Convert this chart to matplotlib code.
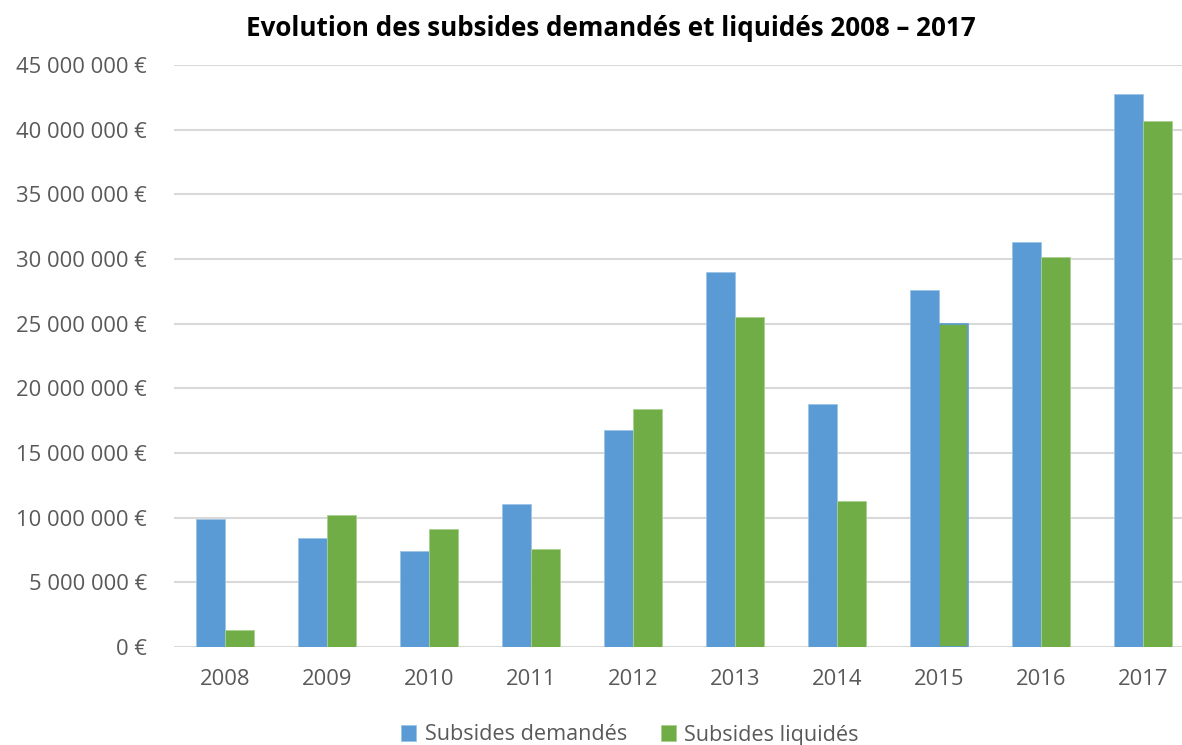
import matplotlib
matplotlib.use("Agg")
import matplotlib.pyplot as plt
import numpy as np

years = ["2008", "2009", "2010", "2011", "2012", "2013", "2014", "2015", "2016", "2017"]
demandes = [9.9e6, 8.46e6, 7.42e6, 11.09e6, 16.8e6, 29.0e6, 18.82e6, 27.62e6, 31.32e6, 42.72e6]
liquides = [1.31e6, 10.24e6, 9.10e6, 7.56e6, 18.43e6, 25.5e6, 11.27e6, 24.94e6, 30.14e6, 40.67e6]
yticks = np.arange(0, 45e6 + 1, 5e6)

BLUE = "#5b9bd5"
GREEN = "#70ad47"
GREY = "#595959"

plt.rcParams["font.family"] = ["Open Sans", "DejaVu Sans"]

fig = plt.figure(figsize=(11.82, 7.45), dpi=100)
ax = fig.add_axes([174 / 1182, 1 - 647 / 745, 1020 / 1182, 582 / 745])

x = np.arange(len(years))
w = 0.285
ax.bar(x - w / 2, demandes, w, color=BLUE, edgecolor="#9cc3e6", linewidth=0.6,
       label="Subsides demandés", zorder=3)
bars = ax.bar(x + w / 2, liquides, w, color=GREEN, edgecolor="#a9d08e", linewidth=0.6,
              label="Subsides liquidés", zorder=3)
# the 2015 paid bar carries a blue outline in the source sheet
bars[7].set_edgecolor(BLUE)
bars[7].set_linewidth(1.2)

def euro(v, _=None):
    if v == 0:
        return "0 €"
    return f"{int(v):,}".replace(",", " ") + " €"

ax.set_ylim(0, 45e6)
ax.set_xlim(-0.5, len(years) - 0.5)
ax.set_yticks(yticks)
ax.set_yticklabels([euro(v) for v in yticks])
ax.set_xticks(x)
ax.set_xticklabels(years)
ax.tick_params(axis="both", length=0, labelsize=15.8, colors=GREY)
ax.tick_params(axis="y", pad=19.5)
ax.tick_params(axis="x", pad=16)
ax.grid(True, axis="y", color="#d9d9d9", lw=1.5, zorder=0)
for s in ax.spines.values():
    s.set_visible(False)

fig.text(611 / 1182, 1 - 28 / 745, "Evolution des subsides demandés et liquidés 2008 – 2017",
         ha="center", va="center", fontsize=18.7, fontweight="bold", color="black")

leg = fig.legend(loc="center", bbox_to_anchor=(630 / 1182, 1 - 735 / 745), ncol=2,
                 frameon=False, fontsize=15.6, handlelength=0.7, handleheight=0.7,
                 handletextpad=0.4, columnspacing=1.55)
for t in leg.get_texts():
    t.set_color(GREY)

fig.savefig("out.png", dpi=100)
